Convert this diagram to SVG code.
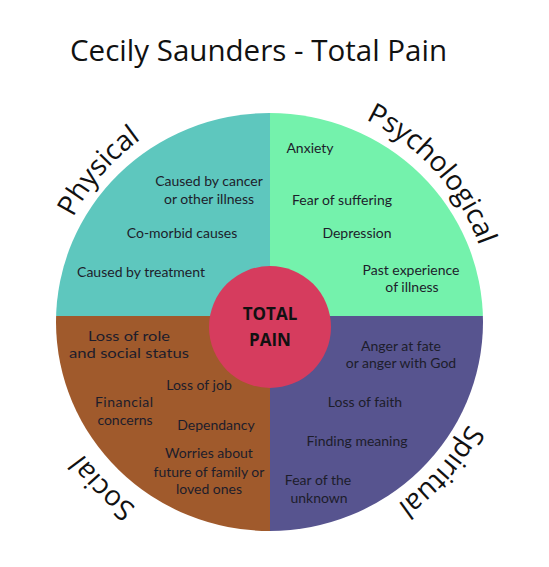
<svg xmlns="http://www.w3.org/2000/svg" width="549" height="567" viewBox="0 0 549 567">
<style>
.t{font-family:Lato,"Open Sans","Liberation Sans",sans-serif;font-size:14px;fill:#1d1d2b;text-anchor:middle}
.lbl{font-family:"Open Sans","Liberation Sans",sans-serif;font-size:28px;fill:#111;text-anchor:middle}
.title{font-family:"Open Sans","Liberation Sans",sans-serif;font-size:30px;fill:#111;text-anchor:middle}
.center{font-family:"Open Sans","Liberation Sans",sans-serif;font-size:17px;font-weight:bold;fill:#111;text-anchor:middle}
</style>
<defs>
<clipPath id="clip"><ellipse cx="269.5" cy="322" rx="213.5" ry="209"/></clipPath>
<path id="pPhys" d="M 48.03 316.13 A 222 222 0 0 1 235.27 100.73"/>
<path id="pPsy" d="M 300.90 100.16 A 222 222 0 0 1 491.86 312.25"/>
<path id="pSpi" d="M 493.92 325.86 A 224 224 0 0 1 303.11 541.54"/>
<path id="pSoc" d="M 249.95 549.12 A 230 230 0 0 1 40.88 340.05"/>
</defs>
<rect width="549" height="567" fill="#fff"/>
<text class="title" x="258.5" y="61" textLength="377" lengthAdjust="spacingAndGlyphs">Cecily Saunders - Total Pain</text>
<g clip-path="url(#clip)">
<g id="physical"><rect x="0" y="0" width="270" height="316" fill="#5ec7be"/></g>
<g id="psychological"><rect x="270" y="0" width="279" height="316" fill="#74f2ac"/></g>
<g id="social"><rect x="0" y="316" width="270" height="251" fill="#a05a2c"/></g>
<g id="spiritual"><rect x="270" y="316" width="279" height="251" fill="#57548f"/></g>
</g>
<g id="physical-text">
<text class="t" x="209" y="186">Caused by cancer</text>
<text class="t" x="209" y="204">or other illness</text>
<text class="t" x="182" y="238">Co-morbid causes</text>
<text class="t" x="141" y="277">Caused by treatment</text>
<text class="lbl"><textPath href="#pPhys" startOffset="50%">Physical</textPath></text>
</g>
<g id="psychological-text">
<text class="t" x="310" y="153">Anxiety</text>
<text class="t" x="342" y="205">Fear of suffering</text>
<text class="t" x="357" y="238">Depression</text>
<text class="t" x="411" y="275">Past experience</text>
<text class="t" x="412" y="292">of illness</text>
<text class="lbl"><textPath href="#pPsy" startOffset="50%">Psychological</textPath></text>
</g>
<g id="social-text">
<text class="t" x="129" y="341" textLength="82" lengthAdjust="spacingAndGlyphs">Loss of role</text>
<text class="t" x="129" y="358" textLength="120" lengthAdjust="spacingAndGlyphs">and social status</text>
<text class="t" x="199" y="390">Loss of job</text>
<text class="t" x="124" y="407" textLength="58" lengthAdjust="spacing">Financial</text>
<text class="t" x="125" y="425">concerns</text>
<text class="t" x="216" y="430">Dependancy</text>
<text class="t" x="209" y="458">Worries about</text>
<text class="t" x="209" y="477">future of family or</text>
<text class="t" x="209" y="494">loved ones</text>
<text class="lbl"><textPath href="#pSoc" startOffset="50%">Social</textPath></text>
</g>
<g id="spiritual-text">
<text class="t" x="401" y="351">Anger at fate</text>
<text class="t" x="401" y="368">or anger with God</text>
<text class="t" x="365" y="407">Loss of faith</text>
<text class="t" x="357" y="446">Finding meaning</text>
<text class="t" x="318" y="485">Fear of the</text>
<text class="t" x="319" y="503">unknown</text>
<text class="lbl"><textPath href="#pSpi" startOffset="50%">Spiritual</textPath></text>
</g>
<g id="total-pain">
<circle cx="270" cy="327" r="61" fill="#d63c5e"/>
<text class="center" x="270" y="320">TOTAL</text>
<text class="center" x="270" y="346">PAIN</text>
</g>
</svg>
